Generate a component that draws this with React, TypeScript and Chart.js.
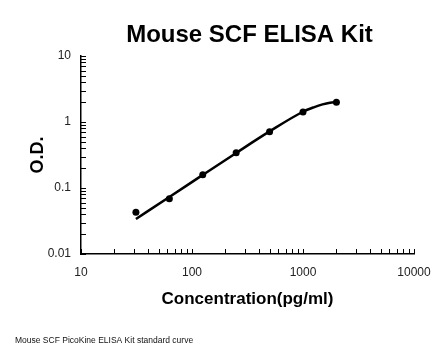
import React, { useEffect, useRef } from "react";
import { Chart, registerables } from "chart.js";

Chart.register(...registerables);

const standardConc = [31.25, 62.5, 125, 250, 500, 1000, 2000];
const standardOD = [0.043, 0.069, 0.159, 0.343, 0.713, 1.42, 1.99];
const curveConc = [31.25, 62.5, 125, 250, 500, 1000, 1250, 1500, 1750, 2000];
const curveOD = [0.034, 0.073, 0.158, 0.34, 0.72, 1.43, 1.67, 1.85, 1.96, 2.0];
const xTickValues = [10, 100, 1000, 10000];
const yTickValues = [0.01, 0.1, 1, 10];
const chartTitle = "Mouse SCF ELISA Kit";
const xAxisTitle = "Concentration(pg/ml)";
const yAxisTitle = "O.D.";
const caption = "Mouse SCF PicoKine ELISA Kit standard curve";

const FONT = "'Liberation Sans', Arial, Helvetica, sans-serif";

const W = 446;
const H = 356;

const decorPlugin = {
  id: "decor",
  beforeDatasetsDraw(chart: any) {
    const ctx = chart.ctx;
    const { left, bottom } = chart.chartArea;
    const xs = chart.scales.x;
    const ys = chart.scales.y;
    ctx.save();
    ctx.strokeStyle = "#000";
    ctx.lineWidth = 1;
    const len = 5;
    for (let e = -2; e <= 1; e++) {
      for (let m = 1; m <= 9; m++) {
        const v = m * Math.pow(10, e);
        if (v < ys.min * 0.999 || v > ys.max * 1.001) continue;
        const py = Math.round(ys.getPixelForValue(v)) + 0.5;
        ctx.beginPath();
        ctx.moveTo(left, py);
        ctx.lineTo(left + len, py);
        ctx.stroke();
      }
    }
    for (let e = 1; e <= 4; e++) {
      for (let m = 1; m <= 9; m++) {
        const v = m * Math.pow(10, e);
        if (v < xs.min * 0.999 || v > xs.max * 1.001) continue;
        const px = Math.round(xs.getPixelForValue(v)) + 0.5;
        ctx.beginPath();
        ctx.moveTo(px, bottom);
        ctx.lineTo(px, bottom - len);
        ctx.stroke();
      }
    }
    ctx.restore();
  },
  afterDraw(chart: any) {
    const ctx = chart.ctx;
    const { left, right } = chart.chartArea;
    ctx.save();
    ctx.fillStyle = "#000";
    ctx.textAlign = "center";
    ctx.textBaseline = "middle";
    ctx.font = `bold 24px ${FONT}`;
    ctx.fillText(chartTitle, (left + right) / 2 + 2, 35);
    ctx.textAlign = "left";
    ctx.font = `8.5px ${FONT}`;
    ctx.fillStyle = "#111";
    ctx.fillText(caption, 15, 341);
    ctx.restore();
  },
};

export default function App() {
  const ref = useRef<HTMLCanvasElement | null>(null);

  useEffect(() => {
    if (!ref.current) return;
    const chart = new Chart(ref.current, {
      type: "scatter",
      data: {
        datasets: [
          {
            label: "Fit",
            data: curveConc.map((x, i) => ({ x, y: curveOD[i] })),
            showLine: true,
            borderColor: "#000",
            borderWidth: 2.5,
            pointRadius: 0,
            cubicInterpolationMode: "monotone",
            fill: false,
          },
          {
            label: "Standards",
            data: standardConc.map((x, i) => ({ x, y: standardOD[i] })),
            showLine: false,
            backgroundColor: "#000",
            borderColor: "#000",
            pointRadius: 3.5,
            pointBorderWidth: 0,
          },
        ],
      },
      options: {
        responsive: false,
        animation: false,
        layout: { padding: { top: 56, right: 32, left: 0, bottom: 0 } },
        plugins: {
          legend: { display: false },
          title: { display: false },
          tooltip: { enabled: false },
        },
        scales: {
          x: {
            type: "logarithmic",
            min: 10,
            max: 10000,
            afterBuildTicks: (s: any) => {
              s.ticks = xTickValues.map((v) => ({ value: v }));
            },
            afterFit: (s: any) => {
              s.height = 102;
            },
            ticks: {
              callback: (v: any) => String(v),
              color: "#222",
              font: { family: FONT, size: 12 },
              padding: 11,
              maxRotation: 0,
              autoSkip: false,
            },
            grid: { display: false, drawTicks: false },
            border: { display: true, color: "#000", width: 1.5 },
            title: {
              display: true,
              text: xAxisTitle,
              color: "#000",
              font: { family: FONT, size: 17, weight: "bold" },
              padding: { top: 0, bottom: 46 },
            },
          },
          y: {
            type: "logarithmic",
            min: 0.01,
            max: 10,
            afterBuildTicks: (s: any) => {
              s.ticks = yTickValues.map((v) => ({ value: v }));
            },
            afterFit: (s: any) => {
              s.width = 81;
            },
            ticks: {
              callback: (v: any) => String(v),
              color: "#222",
              font: { family: FONT, size: 12 },
              padding: 10,
              autoSkip: false,
            },
            grid: { display: false, drawTicks: false },
            border: { display: true, color: "#000", width: 1.5 },
            title: {
              display: true,
              text: yAxisTitle,
              color: "#000",
              font: { family: FONT, size: 18, weight: "bold" },
              padding: { top: 27, bottom: 0 },
            },
          },
        },
      },
      plugins: [decorPlugin],
    });
    return () => chart.destroy();
  }, []);

  return (
    <div
      style={{
        position: "fixed",
        left: 0,
        top: 0,
        width: W,
        height: H,
        background: "#fff",
      }}
    >
      <canvas ref={ref} width={W} height={H} style={{ width: W, height: H }} />
    </div>
  );
}
